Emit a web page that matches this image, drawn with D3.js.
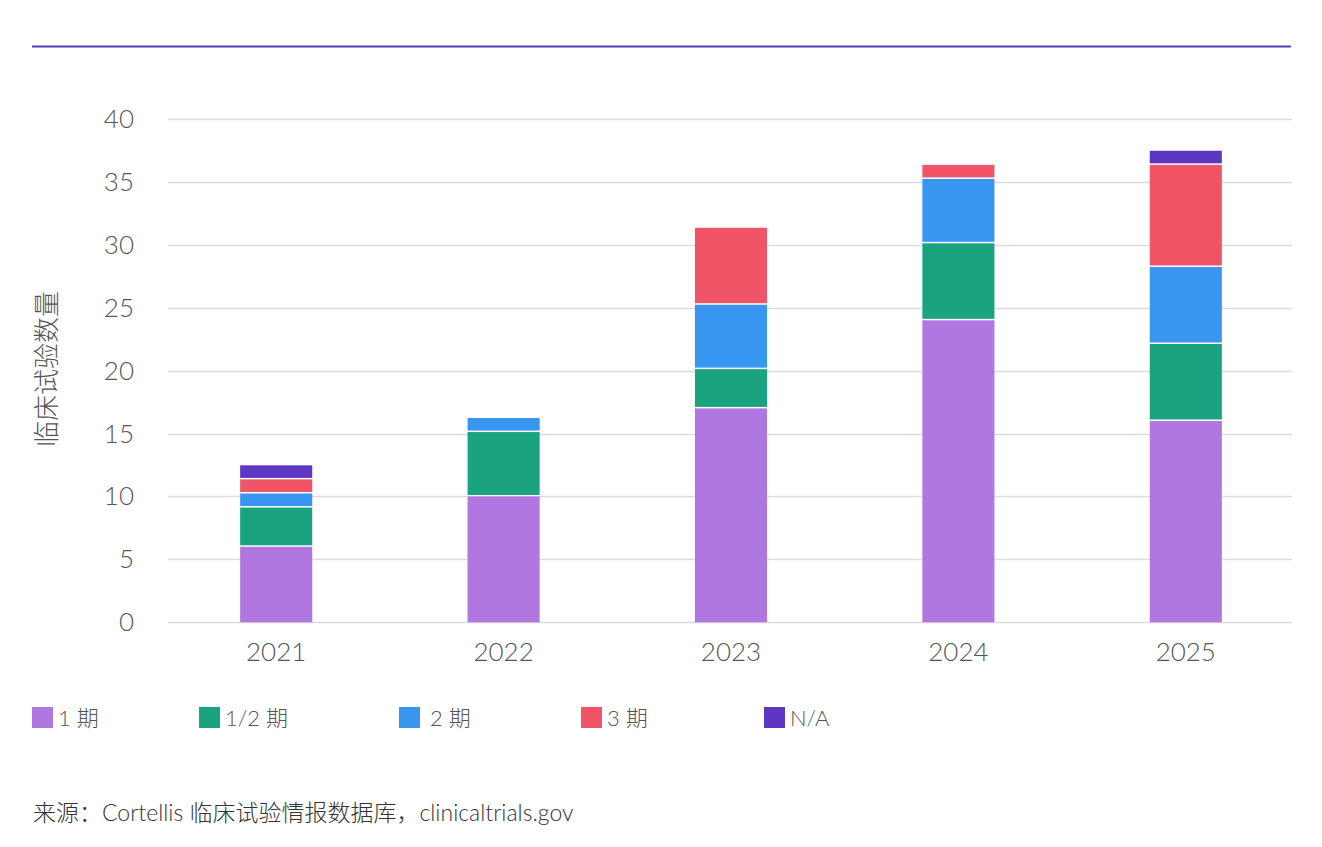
<!DOCTYPE html>
<html>
<head>
<meta charset="utf-8">
<script src="https://cdn.jsdelivr.net/npm/d3@7"></script>
<style>
  body { margin: 0; background: #fff; }
  svg text { font-family: Lato, "Noto Sans CJK SC", sans-serif; }
</style>
</head>
<body>
<div id="chart"></div>
<script>
// Data
const years = ['2021', '2022', '2023', '2024', '2025']
const phases = ['1 期', '1/2 期', '2 期', '3 期', 'N/A']
const phase1 = [6, 10, 17, 24, 16]
const phase12 = [3, 5, 3, 6, 6]
const phase2 = [1, 1, 5, 5, 6]
const phase3 = [1, 0, 6, 1, 8]
const phaseNA = [1, 0, 0, 0, 1]
const yTicks = [0, 5, 10, 15, 20, 25, 30, 35, 40]
const colors = ['#b077e0', '#19a47f', '#3895f0', '#ef5566', '#5d36c1']

const width = 1322,
  height = 847

const series = [phase1, phase12, phase2, phase3, phaseNA]
const rows = years.map((y, i) => {
  let r = { year: y }
  phases.forEach((p, j) => { r[p] = series[j][i] })
  return r
})

const stacked = d3.stack().keys(phases)(rows)

let svg = d3.select('#chart')
  .append('svg')
  .attr('width', width)
  .attr('height', height)

// top rule
svg.append('line')
  .attr('x1', 32).attr('x2', 1291)
  .attr('y1', 46.5).attr('y2', 46.5)
  .attr('stroke', '#5a3bb8')
  .attr('stroke-width', 2)

let x = d3.scaleBand()
  .domain(years)
  .range([162.5, 1299.5])
  .paddingInner(0.683)
  .paddingOuter(0.3415)

let y = d3.scaleLinear()
  .domain([0, 40])
  .range([622.3, 119])

// grid
svg.append('g')
  .selectAll('line')
  .data(yTicks)
  .enter()
  .append('line')
  .attr('x1', 168).attr('x2', 1292)
  .attr('y1', d => Math.round(y(d)) + 0.5)
  .attr('y2', d => Math.round(y(d)) + 0.5)
  .attr('stroke', '#dcdcdc')
  .attr('stroke-width', 1.5)

// y axis labels
svg.append('g')
  .selectAll('text')
  .data(yTicks)
  .enter()
  .append('text')
  .attr('x', 134)
  .attr('y', d => y(d) + 9)
  .attr('text-anchor', 'end')
  .attr('font-size', 26)
  .attr('font-weight', 300)
  .attr('fill', '#555')
  .text(d => d)

// y title
svg.append('text')
  .attr('transform', 'translate(56,369) rotate(-90)')
  .attr('text-anchor', 'middle')
  .attr('font-size', 26)
  .attr('font-weight', 300)
  .attr('fill', '#555')
  .text('临床试验数量')

// bars, with a small white gap between stacked segments
const gap = 1.5
svg.append('g')
  .selectAll('g')
  .data(stacked)
  .enter()
  .append('g')
  .attr('fill', (d, i) => colors[i])
  .selectAll('rect')
  .data(d => d.filter(s => s[1] > s[0]))
  .enter()
  .append('rect')
  .attr('x', d => x(d.data.year))
  .attr('width', x.bandwidth())
  .attr('y', d => {
    // count non-empty segments below this one
    let below = 0, sum = 0
    for (let p of phases) {
      if (sum >= d[0]) break
      if (d.data[p] > 0) below++
      sum += d.data[p]
    }
    return y(d[1]) - below * gap
  })
  .attr('height', d => y(d[0]) - y(d[1]))

// x labels
svg.append('g')
  .selectAll('text')
  .data(years)
  .enter()
  .append('text')
  .attr('x', d => x(d) + x.bandwidth() / 2)
  .attr('y', 661)
  .attr('text-anchor', 'middle')
  .attr('font-size', 26)
  .attr('font-weight', 300)
  .attr('fill', '#555')
  .text(d => d)

// legend
const legendX = [32, 199, 399, 581, 764]
const legendText = ['1 期', '1/2 期', '2 期', '3 期', 'N/A']
let legend = svg.append('g')
  .selectAll('g')
  .data(phases)
  .enter()
  .append('g')
  .attr('transform', (d, i) => `translate(${legendX[i]},707)`)
legend.append('rect')
  .attr('width', 21).attr('height', 21)
  .attr('fill', (d, i) => colors[i])
legend.append('text')
  .attr('x', (d, i) => i === 2 ? 31 : 26)
  .attr('y', 19)
  .attr('font-size', 22)
  .attr('font-weight', 300)
  .attr('fill', '#555')
  .text((d, i) => legendText[i])

// source
svg.append('text')
  .attr('x', 33)
  .attr('y', 821)
  .attr('font-size', 23)
  .attr('font-weight', 300)
  .attr('fill', '#333')
  .text('来源：Cortellis 临床试验情报数据库，clinicaltrials.gov')
</script>
</body>
</html>
